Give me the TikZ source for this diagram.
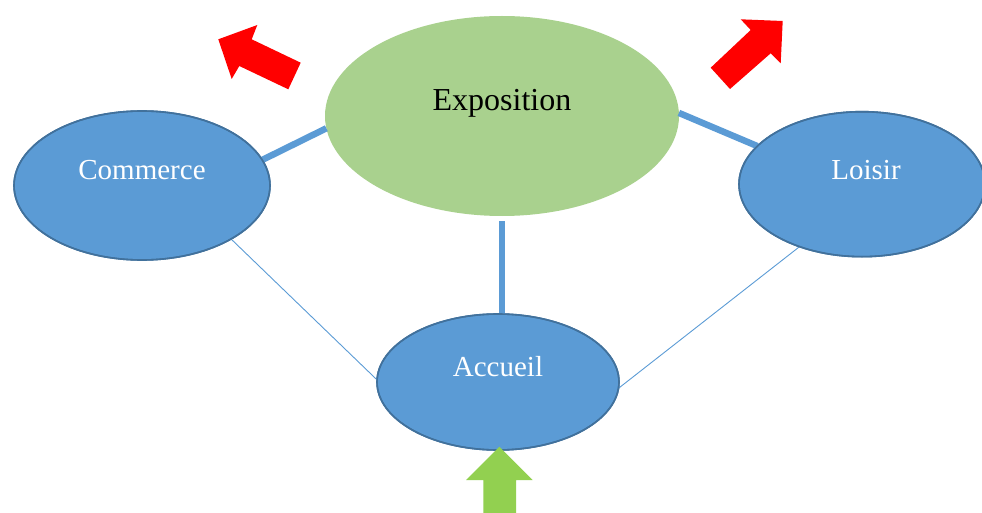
\documentclass[tikz,border=0pt]{standalone}
\usepackage{fontspec}
\setmainfont{Liberation Serif}
\usetikzlibrary{shapes.geometric}
\definecolor{nodeblue}{HTML}{5B9BD5}
\definecolor{nodeborder}{HTML}{41719C}
\definecolor{expgreen}{HTML}{A9D18E}
\definecolor{arrgreen}{HTML}{92D050}
\definecolor{arrred}{HTML}{FF0000}
\begin{document}
\begin{tikzpicture}[x=1pt,y=-1pt,
  bluenode/.style={ellipse, fill=nodeblue, draw=nodeborder, line width=1.6pt, inner sep=0pt, outer sep=0pt},
  greennode/.style={ellipse, fill=expgreen, inner sep=0pt, outer sep=0pt},
  lbl/.style={anchor=base, inner sep=0pt, font=\fontsize{29}{29}\selectfont},
  bigl/.style={anchor=base, inner sep=0pt, font=\fontsize{32}{32}\selectfont},
  thick link/.style={draw=nodeblue, line width=6.5pt},
  thin link/.style={draw=nodeblue, line width=0.9pt},
  border/.style={draw=nodeborder, line width=1.6pt}
]
\useasboundingbox (0,0) rectangle (982,513);

% nodes
\node[greennode, minimum width=354pt, minimum height=200pt] (exp) at (502,116) {};
\node[bluenode, minimum width=256pt, minimum height=149pt] (com) at (142,185.5) {};
\node[bluenode, minimum width=246pt, minimum height=145pt] (loi) at (862,184.2) {};
\node[bluenode, minimum width=242pt, minimum height=136pt] (acc) at (498,382) {};

% labels
\node[bigl, text=black] (expT) at (502,110.7) {Exposition};
\node[lbl, text=white] (comT) at (142,180) {Commerce};
\node[lbl, text=white] (loiT) at (866,180) {Loisir};
\node[lbl, text=white] (accT) at (498,376.7) {Accueil};

% connectors
\draw[thick link] (com.12) -- (exp.184);
\draw[thick link] (exp.1) -- (loi.160.4);
\draw[thick link, shorten <=5pt] (exp.south) -- (exp.south |- acc.north);
\draw[thin link] (com.-31.5) -- (acc.179);
\draw[thin link] (loi.225.8) -- (acc.-3);

% node borders drawn over connector ends
\draw[border] (com.center) ellipse [x radius=128pt, y radius=74.5pt];
\draw[border] (loi.center) ellipse [x radius=123pt, y radius=72.5pt];
\draw[border] (acc.center) ellipse [x radius=121pt, y radius=68pt];

% red arrows
\fill[arrred] (218.3,39.3) -- (257.3,25) -- (251.7,39.3) -- (300.7,62.7) -- (288.3,89.3) -- (239.3,66) -- (231.7,79) -- cycle;
\fill[arrred] (782.7,21) -- (740.7,19.3) -- (750.7,30) -- (710.7,67.7) -- (730,89) -- (770.7,53.3) -- (780.7,63.3) -- cycle;

% green arrow
\fill[arrgreen] (499.3,446.7) -- (532.7,480) -- (516,480) -- (516,513) -- (483.3,513) -- (483.3,480) -- (466,480) -- cycle;
\end{tikzpicture}
\end{document}
